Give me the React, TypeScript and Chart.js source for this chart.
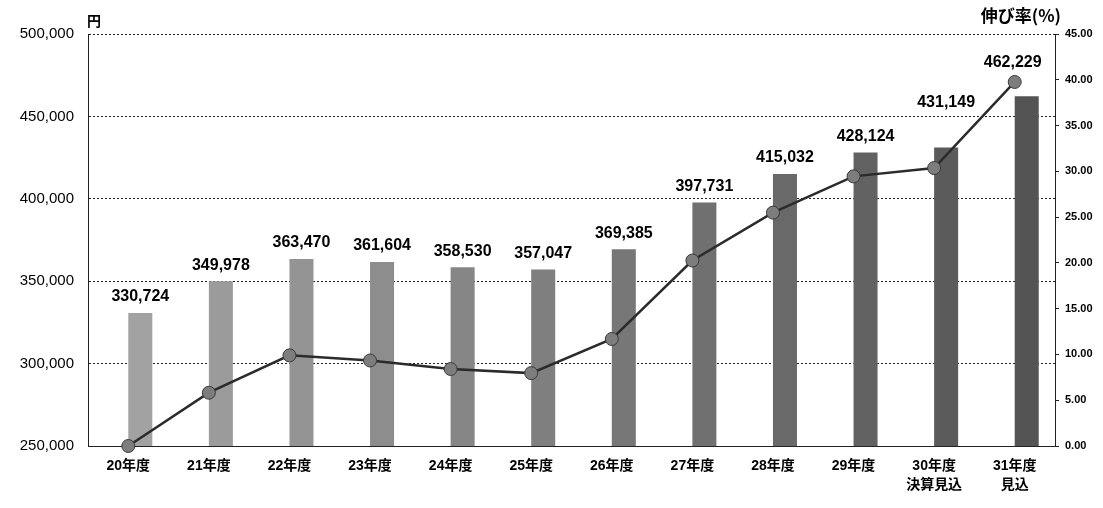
import { useEffect, useRef } from 'react';
import { Chart, registerables } from 'chart.js';

Chart.register(...registerables);

const categories: (string | string[])[] = [
  '20年度', '21年度', '22年度', '23年度', '24年度', '25年度',
  '26年度', '27年度', '28年度', '29年度', ['30年度', '決算見込'], ['31年度', '見込'],
];
const costValues = [330724, 349978, 363470, 361604, 358530, 357047, 369385, 397731, 415032, 428124, 431149, 462229];
const growthRates = [0.0, 5.82, 9.9, 9.34, 8.41, 7.96, 11.69, 20.26, 25.49, 29.45, 30.36, 39.76];
const leftAxis = { min: 250000, max: 500000, step: 50000, unit: '円' };
const rightAxis = { min: 0, max: 45, step: 5, title: '伸び率(%)' };

const LATIN = "'Liberation Sans', 'Noto Sans CJK JP', sans-serif";
const labelTweaks: Record<number, { dx: number; dy: number }> = {
  10: { dx: 0, dy: 29 },
  11: { dx: -14, dy: 18 },
};

const fmt = (v: number) => v.toLocaleString('en-US');

const barGray = (i: number) => {
  const t = i / 11;
  const v = Math.round(162 - t * 78);
  return `rgb(${v},${v},${v})`;
};

const labelsPlugin = {
  id: 'valueLabels',
  afterDatasetsDraw(chart: any) {
    const meta = chart.getDatasetMeta(1);
    const ctx = chart.ctx;
    ctx.save();
    ctx.font = `bold 16px ${LATIN}`;
    ctx.fillStyle = '#000';
    ctx.textAlign = 'center';
    ctx.textBaseline = 'bottom';
    meta.data.forEach((el: any, i: number) => {
      const tw = labelTweaks[i] || { dx: 0, dy: 0 };
      ctx.fillText(fmt(costValues[i]), el.x + tw.dx, el.y - 8 - tw.dy);
    });
    ctx.restore();
  },
  afterDraw(chart: any) {
    const { ctx, chartArea } = chart;
    ctx.save();
    ctx.fillStyle = '#000';
    ctx.textBaseline = 'middle';
    ctx.font = `bold 14px 'Noto Sans CJK JP', sans-serif`;
    ctx.textAlign = 'left';
    ctx.fillText(leftAxis.unit, chartArea.left - 1, chartArea.top - 13);
    ctx.font = `bold 17px 'Noto Sans CJK JP', sans-serif`;
    ctx.textAlign = 'right';
    ctx.fillText(rightAxis.title, chartArea.right + 6, chartArea.top - 18);
    ctx.restore();
  },
};

export default function App() {
  const ref = useRef<HTMLCanvasElement | null>(null);

  useEffect(() => {
    if (!ref.current) return;
    const chart = new Chart(ref.current, {
      type: 'bar',
      data: {
        labels: categories,
        datasets: [
          {
            type: 'bar',
            label: '',
            data: categories.map(() => null),
            yAxisID: 'y',
            backgroundColor: 'transparent',
            order: 2,
          },
          {
            type: 'bar',
            label: '一人当たり',
            data: costValues,
            yAxisID: 'y',
            backgroundColor: (c: any) => barGray(c.dataIndex),
            borderWidth: 0,
            order: 2,
          },
          {
            type: 'line',
            label: '伸び率',
            data: growthRates,
            yAxisID: 'y1',
            borderColor: '#2b2b2b',
            borderWidth: 2.5,
            pointRadius: 6.5,
            pointBackgroundColor: '#7d7d7d',
            pointBorderColor: '#3a3a3a',
            pointBorderWidth: 1,
            tension: 0,
            clip: false,
            order: 1,
          } as any,
        ],
      },
      options: {
        animation: false,
        responsive: true,
        maintainAspectRatio: false,
        datasets: {
          bar: { categoryPercentage: 0.596, barPercentage: 1.0 },
        },
        layout: { padding: { top: 34, left: 0, right: 0, bottom: 0 } },
        plugins: {
          legend: { display: false },
          tooltip: { enabled: false },
          title: { display: false },
        },
        scales: {
          x: {
            type: 'category',
            offset: true,
            grid: { display: false, drawTicks: false },
            border: { display: true, color: '#222', dash: [2, 2], width: 1 },
            ticks: {
              autoSkip: false,
              maxRotation: 0,
              minRotation: 0,
              padding: 10,
              color: '#000',
              font: { family: LATIN, size: 14, weight: 'bold', lineHeight: 1.4 },
            },
            afterFit: (s: any) => { s.height = 62; },
          },
          y: {
            type: 'linear',
            position: 'left',
            min: leftAxis.min,
            max: leftAxis.max,
            grid: {
              color: '#222',
              lineWidth: 1,
              drawTicks: false,
            },
            border: { display: true, color: '#222', dash: [2, 2], width: 1 },
            ticks: {
              stepSize: leftAxis.step,
              padding: 14,
              color: '#000',
              font: { family: LATIN, size: 15 },
              callback: (v: any) => fmt(Number(v)),
            },
            afterFit: (s: any) => { s.width = 88; },
          } as any,
          y1: {
            type: 'linear',
            position: 'right',
            min: rightAxis.min,
            max: rightAxis.max,
            grid: { drawOnChartArea: false, color: '#222', tickLength: 4, tickWidth: 1 },
            border: { display: true, color: '#222', dash: [2, 2], width: 1 },
            ticks: {
              stepSize: rightAxis.step,
              padding: 6,
              color: '#000',
              font: { family: LATIN, size: 11, weight: 'bold' },
              callback: (v: any) => Number(v).toFixed(2),
            },
            afterFit: (s: any) => { s.width = 48; },
          },
        },
      } as any,
      plugins: [labelsPlugin],
    });
    (chart.options.scales as any).y.grid.borderDash = [2, 2];
    (chart.options.scales as any).y.border.dash = [2, 2];
    chart.update();
    return () => chart.destroy();
  }, []);

  return (
    <div style={{ position: 'fixed', left: 0, top: 0, width: 1103, height: 508, background: '#fff' }}>
      <canvas ref={ref} />
    </div>
  );
}
